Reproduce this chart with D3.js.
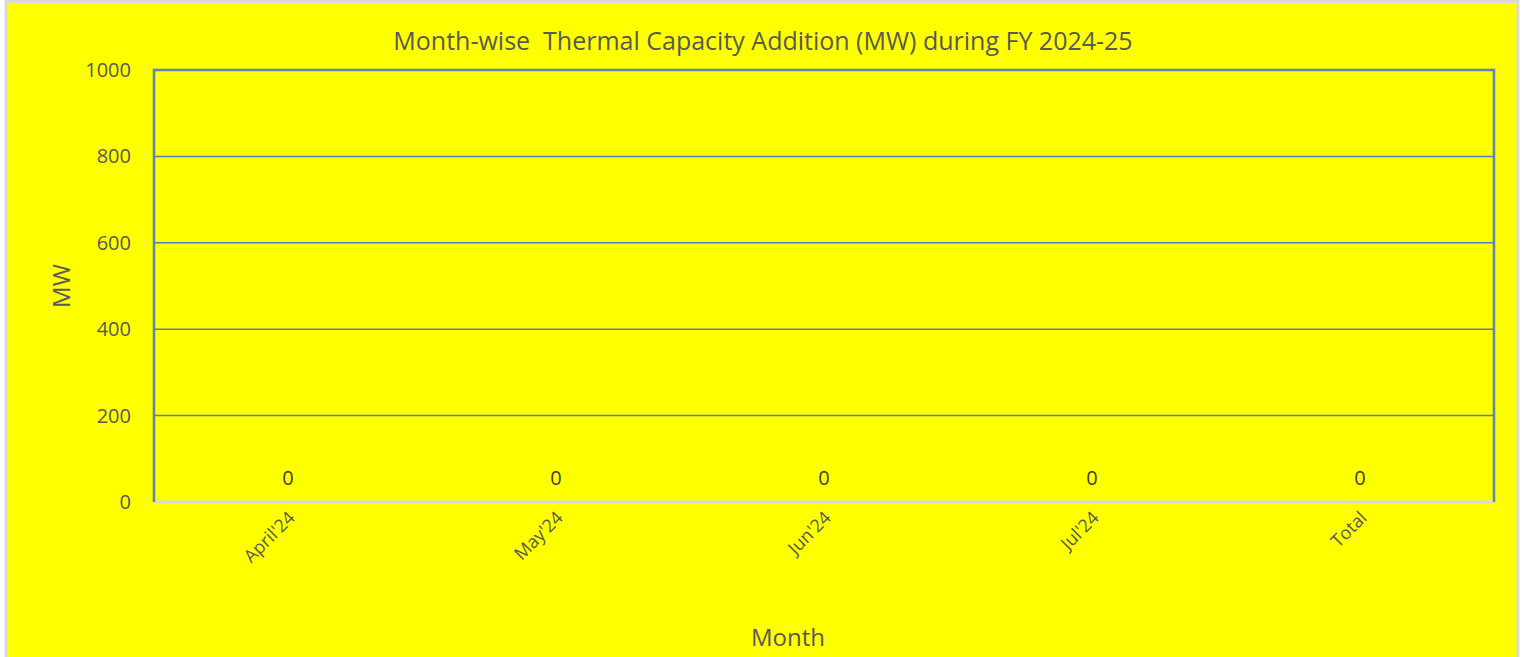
<!DOCTYPE html>
<html><head><meta charset="utf-8">
<script src="https://cdn.jsdelivr.net/npm/d3@7"></script>
<style>body{margin:0;background:#fff;}svg{display:block;font-family:"Open Sans","Noto Sans",sans-serif;}</style>
</head><body><svg id="c" width="1527" height="657"></svg>
<script>
const categories = ["April'24","May'24","Jun'24","Jul'24","Total"];
const values = [0,0,0,0,0];
const yTicks = [0,200,400,600,800,1000];
const title = "Month-wise  Thermal Capacity Addition (MW) during FY 2024-25";

const svg = d3.select("#c");
svg.append("rect").attr("x",6).attr("y",1.5).attr("width",1512).attr("height",660)
  .attr("fill","#ffff00").attr("stroke","#d9d9d9").attr("stroke-width",3);

const m = {l:154, r:1494, t:70, b:502};
const x = d3.scaleBand().domain(categories).range([m.l,m.r]);
const y = d3.scaleLinear().domain([0,1000]).range([m.b,m.t]);
const grey = "#595959", blue="#4f7fbf";

svg.append("text").attr("x",763).attr("y",50).attr("text-anchor","middle")
  .attr("font-size",25).attr("fill",grey).style("white-space","pre").text(title);

// gridlines
svg.append("g").selectAll("line").data(yTicks.filter(d=>d>0 && d<1000)).join("line")
  .attr("x1",m.l).attr("x2",m.r).attr("y1",d=>y(d)).attr("y2",d=>y(d))
  .attr("stroke",blue).attr("stroke-width",1.5);

// plot border
svg.append("line").attr("x1",m.l).attr("x2",m.r).attr("y1",m.b).attr("y2",m.b).attr("stroke","#d9d9d9").attr("stroke-width",3);
svg.append("path").attr("d",`M${m.l},${m.b}V${m.t}H${m.r}V${m.b}`).attr("fill","none")
  .attr("stroke","#5a86b8").attr("stroke-width",2.5);

// bars (zero height)
svg.append("g").selectAll("rect").data(values).join("rect")
  .attr("x",(d,i)=>x(categories[i])+x.bandwidth()*0.2).attr("width",x.bandwidth()*0.6)
  .attr("y",d=>y(d)).attr("height",d=>y(0)-y(d)).attr("fill",blue);

// y axis
const ya = svg.append("g").attr("transform",`translate(${m.l},0)`)
  .call(d3.axisLeft(y).tickValues(yTicks).tickFormat(d3.format("d")).tickSize(0).tickPadding(23));
ya.select(".domain").remove();
ya.selectAll("text").attr("font-size",20).attr("fill",grey).attr("font-family","Open Sans");

// x axis labels
const xa = svg.append("g").attr("transform",`translate(0,${m.b})`)
  .call(d3.axisBottom(x).tickSize(0).tickPadding(0));
xa.select(".domain").remove();
xa.selectAll("text").attr("font-size",18).attr("fill",grey).attr("font-family","Open Sans")
  .attr("text-anchor","end").attr("dy",0)
  .attr("transform","translate(8,17) rotate(-45)");

// data labels
svg.append("g").selectAll("text").data(values).join("text")
  .attr("x",(d,i)=>x(categories[i])+x.bandwidth()/2).attr("y",d=>y(d)-17)
  .attr("text-anchor","middle").attr("font-size",20).attr("fill","#404040").text(d=>d);

svg.append("text").attr("x",788).attr("y",646).attr("text-anchor","middle")
  .attr("font-size",24).attr("fill",grey).text("Month");
svg.append("text").attr("transform","translate(70,286) rotate(-90)").attr("text-anchor","middle")
  .attr("font-size",24).attr("fill",grey).text("MW");
</script></body></html>
